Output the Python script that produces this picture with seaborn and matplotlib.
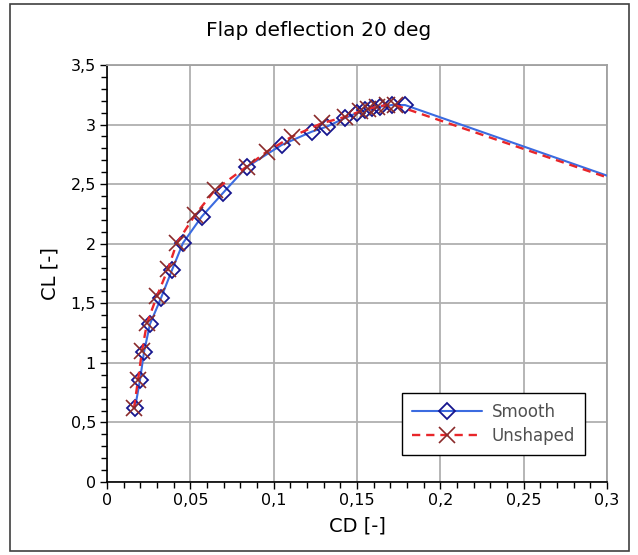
import matplotlib
matplotlib.use("Agg")
import matplotlib.pyplot as plt
import seaborn as sns
import numpy as np
import pandas as pd
from matplotlib.ticker import MultipleLocator, FuncFormatter
from matplotlib.lines import Line2D
from matplotlib.patches import Rectangle

# ---- data ----
smooth_cd = [0.0168, 0.0198, 0.0222, 0.0258, 0.0324, 0.0390, 0.0456, 0.0568, 0.0696,
             0.0838, 0.1048, 0.1228, 0.1318, 0.1428, 0.1500, 0.1548, 0.1590, 0.1638,
             0.1708, 0.1788, 0.3500]
smooth_cl = [0.621, 0.856, 1.091, 1.326, 1.544, 1.779, 2.006, 2.227, 2.426,
             2.644, 2.829, 2.940, 2.982, 3.055, 3.097, 3.122, 3.137, 3.150,
             3.164, 3.164, 2.327]

unshaped_cd = [0.0162, 0.0186, 0.0210, 0.0240, 0.0300, 0.0366, 0.0418, 0.0528, 0.0648,
               0.0838, 0.0958, 0.1108, 0.1288, 0.1428, 0.1518, 0.1566, 0.1618, 0.1678,
               0.1728, 0.3500]
unshaped_cl = [0.621, 0.856, 1.100, 1.335, 1.561, 1.788, 2.003, 2.241, 2.451,
               2.647, 2.772, 2.898, 3.011, 3.064, 3.110, 3.131, 3.150, 3.164,
               3.164, 2.318]

x_ticks = [0, 0.05, 0.1, 0.15, 0.2, 0.25, 0.3]
y_ticks = [0, 0.5, 1, 1.5, 2, 2.5, 3, 3.5]
title = "Flap deflection 20 deg"
xlabel = "CD [-]"
ylabel = "CL [-]"
series_names = ["Smooth", "Unshaped"]

sns.set_theme(style="white")
plt.rcParams['font.family'] = ['DejaVu Sans']

fig = plt.figure(figsize=(6.38, 5.55), dpi=100)
ax = fig.add_axes([107/638, 1-482/555, 500/638, 417/555])

df_s = pd.DataFrame({"CD": smooth_cd, "CL": smooth_cl})
df_u = pd.DataFrame({"CD": unshaped_cd, "CL": unshaped_cl})

smooth_line = "#3b6be0"
smooth_mark = "#16168f"
uns_line = "#e8262a"
uns_mark = "#8a2a2a"

sns.lineplot(data=df_s, x="CD", y="CL", sort=False, estimator=None, ax=ax,
             color=smooth_line, linewidth=1.5, marker="D", markersize=8,
             markerfacecolor="none", markeredgecolor=smooth_mark, markeredgewidth=1.3,
             zorder=3)
sns.lineplot(data=df_u, x="CD", y="CL", sort=False, estimator=None, ax=ax,
             color=uns_line, linewidth=1.7, linestyle=(0, (3.5, 2.5)), marker="x", markersize=11,
             markeredgecolor=uns_mark, markeredgewidth=1.2, zorder=4)

ax.set_xlim(0, 0.3)
ax.set_ylim(0, 3.5)
ax.set_xticks(x_ticks)
ax.set_yticks(y_ticks)
fmt = FuncFormatter(lambda v, p: ("%g" % round(v, 3)).replace(".", ","))
ax.xaxis.set_major_formatter(fmt)
ax.yaxis.set_major_formatter(fmt)
ax.xaxis.set_minor_locator(MultipleLocator(0.01))
ax.yaxis.set_minor_locator(MultipleLocator(0.1))
ax.tick_params(axis="both", which="major", direction="out", length=5, width=1,
               color="black", labelsize=11.5, labelcolor="black", pad=3,
               bottom=True, left=True)
ax.tick_params(axis="both", which="minor", direction="out", length=4, width=1,
               color="black", bottom=True, left=True)
ax.grid(True, which="major", color="#b0b0b0", linewidth=1.3)
ax.set_axisbelow(True)
for s in ["left", "bottom"]:
    ax.spines[s].set_color("black")
    ax.spines[s].set_linewidth(1.2)
for s in ["top", "right"]:
    ax.spines[s].set_color("#a0a0a0")
    ax.spines[s].set_linewidth(1.3)

ax.set_xlabel(xlabel, fontsize=14, labelpad=6, color="black")
ax.set_ylabel(ylabel, fontsize=14, labelpad=8, color="black")
fig.text(0.5, 1-31/555, title, ha="center", va="center", fontsize=14.5, color="black")

handles = [
    Line2D([], [], color=smooth_line, linewidth=1.5, marker="D", markersize=8,
           markerfacecolor="none", markeredgecolor=smooth_mark, markeredgewidth=1.3),
    Line2D([], [], color=uns_line, linewidth=1.7, linestyle=(0, (3.5, 2.5)), marker="x",
           markersize=11, markeredgecolor=uns_mark, markeredgewidth=1.2),
]
leg = ax.legend(handles, series_names, loc="lower right", bbox_to_anchor=(0.956, 0.065),
                borderaxespad=0, frameon=True, fancybox=False, edgecolor="black", framealpha=1,
                fontsize=12, handlelength=4.2, handletextpad=0.6, borderpad=0.6,
                labelspacing=0.35)
leg.get_frame().set_linewidth(1.0)
for t in leg.get_texts():
    t.set_color("#505050")

fig.patches.append(Rectangle((10/638, 4/555), 619/638, 547/555, transform=fig.transFigure,
                             fill=False, edgecolor="#404040", linewidth=1.2))

fig.savefig("out.png", dpi=100)
